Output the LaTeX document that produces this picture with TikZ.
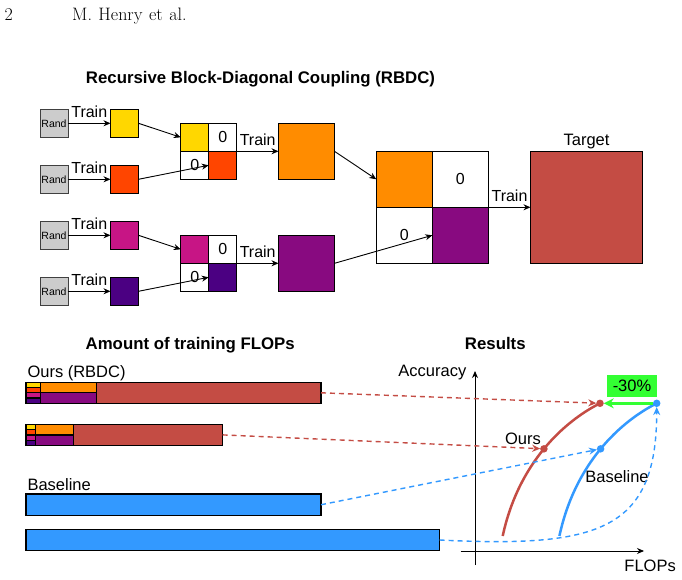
\documentclass[tikz,border=0pt]{standalone}
\usepackage{fontspec}
\newfontfamily\arial{Liberation Sans}
\usetikzlibrary{arrows.meta,fit}
\definecolor{cyel}{HTML}{FFD700}
\definecolor{cored}{HTML}{FF4500}
\definecolor{cmag}{HTML}{C71585}
\definecolor{cind}{HTML}{4B0082}
\definecolor{corg}{HTML}{FF8C00}
\definecolor{cpur}{HTML}{880A80}
\definecolor{ctar}{HTML}{C44C44}
\definecolor{cblue}{HTML}{3399FF}
\definecolor{cgreen}{HTML}{33FF33}
\definecolor{cgray}{HTML}{CCCCCC}
\tikzset{
  lbl/.style={font=\arial\fontsize{16.5}{19}\selectfont, inner sep=0pt},
  trl/.style={font=\arial\fontsize{16}{19}\selectfont, inner sep=0pt},
  ttl/.style={font=\arial\bfseries\fontsize{16.8}{19}\selectfont, inner sep=0pt},
  cell/.style={draw=black, line width=0.9pt, minimum size=28pt, inner sep=0pt, outer sep=0pt, font=\arial\fontsize{16}{19}\selectfont},
  bigcell/.style={cell, minimum size=56pt},
  randbox/.style={draw=black!75, fill=cgray, line width=0.9pt, minimum size=28pt, inner sep=0pt, outer sep=0pt, font=\arial\fontsize{10.5}{12}\selectfont},
  arr/.style={-{Stealth[length=7pt,width=6pt]}, line width=0.9pt},
  seg/.style={draw=black, line width=1.2pt, inner sep=0pt, outer sep=0pt, anchor=north west},
  rdash/.style={ctar, line width=1.4pt, dash pattern=on 5pt off 4pt, -{Stealth[length=8pt,width=7pt]}},
  bdash/.style={cblue, line width=1.4pt, dash pattern=on 5pt off 4pt, -{Stealth[length=8pt,width=7pt]}},
  dot/.style={circle, inner sep=0pt, minimum size=7.5pt, outer sep=0pt},
}
\begin{document}
\begin{tikzpicture}[x=1pt,y=-1pt]
\useasboundingbox (0,0) rectangle (682,580);
% header
\node[anchor=base west, inner sep=0pt, font=\fontsize{18}{21}\selectfont] (pg) at (4.5,21) {2};
\node[anchor=base west, inner sep=0pt, font=\fontsize{18}{21}\selectfont] (au) at (72,21) {M.\hspace{6.5pt}Henry\hspace{6.5pt}et\hspace{6.5pt}al.};
% title
\node[ttl, anchor=base] (t1) at (260.5,84) {Recursive Block-Diagonal Coupling (RBDC)};
% rand boxes and small squares
\foreach \i/\y/\c in {1/123.3/cyel, 2/179.3/cored, 3/235.3/cmag, 4/291.3/cind}{
  \node[randbox] (r\i) at (54,\y) {Rand};
  \node[cell, fill=\c] (s\i) at (124.5,\y) {};
  \draw[arr] (r\i) -- node[trl, above=5pt] (tr\i) {Train} (s\i);
}
% block 1
\node[cell, fill=cyel] (a11) at (194.7,137.3) {};
\node[cell, fill=white] (a12) at (222.7,137.3) {0};
\node[cell, fill=white] (a21) at (194.7,165.3) {0};
\node[cell, fill=cored] (a22) at (222.7,165.3) {};
\node[fit=(a11)(a22), inner sep=0pt] (A) {};
% block 2
\node[cell, fill=cmag] (b11) at (194.7,249.3) {};
\node[cell, fill=white] (b12) at (222.7,249.3) {0};
\node[cell, fill=white] (b21) at (194.7,277.3) {0};
\node[cell, fill=cind] (b22) at (222.7,277.3) {};
\node[fit=(b11)(b22), inner sep=0pt] (Bb) {};
\draw[arr] (s1.east) -- (a11.west);
\draw[arr] (s2.east) -- (a22.west);
\draw[arr] (s3.east) -- (b11.west);
\draw[arr] (s4.east) -- (b22.west);
% orange, purple
\node[bigcell, fill=corg] (o) at (306.5,151.3) {};
\node[bigcell, fill=cpur] (p) at (306.5,263.3) {};
\draw[arr] (A.east) -- node[trl, above=5pt] (tra) {Train} (o.west);
\draw[arr] (Bb.east) -- node[trl, above=5pt] (trb) {Train} (p.west);
% big block
\node[bigcell, fill=corg] (c11) at (404.3,179.3) {};
\node[bigcell, fill=white] (c12) at (460.3,179.3) {0};
\node[bigcell, fill=white] (c21) at (404.3,235.3) {0};
\node[bigcell, fill=cpur] (c22) at (460.3,235.3) {};
\node[fit=(c11)(c22), inner sep=0pt] (C) {};
\draw[arr] (o.east) -- (c11.west);
\draw[arr] (p.east) -- (c22.west);
% target
\node[cell, fill=ctar, minimum size=112pt] (T) at (586.5,207.3) {};
\node[lbl, anchor=base] (tl) at (586.5,146) {Target};
\draw[arr] (C.east) -- node[trl, above=5pt] (trc) {Train} (T.west);

% section titles
\node[ttl, anchor=base] (t2) at (190.2,349) {Amount of training FLOPs};
\node[ttl, anchor=base] (t3) at (495.3,349) {Results};
\node[lbl, anchor=base west] (l1) at (27.3,377) {Ours (RBDC)};
\node[lbl, anchor=base west] (l2) at (27.3,490.7) {Baseline};

% bar 1
\node[seg, fill=cyel, minimum width=14.7pt, minimum height=5.25pt] (p1a) at (26,382.3) {};
\node[seg, fill=cored, minimum width=14.7pt, minimum height=5.25pt] (p1b) at (26,387.55) {};
\node[seg, fill=cmag, minimum width=14.7pt, minimum height=5.25pt] (p1c) at (26,392.8) {};
\node[seg, fill=cind, minimum width=14.7pt, minimum height=5.25pt] (p1d) at (26,398.05) {};
\node[seg, fill=corg, minimum width=56pt, minimum height=10.5pt] (p1e) at (40.7,382.3) {};
\node[seg, fill=cpur, minimum width=56pt, minimum height=10.5pt] (p1f) at (40.7,392.8) {};
\node[seg, fill=ctar, minimum width=224.3pt, minimum height=21pt] (p1g) at (96.7,382.3) {};
% bar 2
\node[seg, fill=cyel, minimum width=9.7pt, minimum height=5.3pt] (p2a) at (26,424.3) {};
\node[seg, fill=cored, minimum width=9.7pt, minimum height=5.3pt] (p2b) at (26,429.6) {};
\node[seg, fill=cmag, minimum width=9.7pt, minimum height=5.3pt] (p2c) at (26,434.9) {};
\node[seg, fill=cind, minimum width=9.7pt, minimum height=5.3pt] (p2d) at (26,440.2) {};
\node[seg, fill=corg, minimum width=37.6pt, minimum height=10.6pt] (p2e) at (35.7,424.3) {};
\node[seg, fill=cpur, minimum width=37.6pt, minimum height=10.6pt] (p2f) at (35.7,434.9) {};
\node[seg, fill=ctar, minimum width=149.4pt, minimum height=21.2pt] (p2g) at (73.3,424.3) {};
% baseline bars
\node[seg, fill=cblue, minimum width=295pt, minimum height=21.5pt] (q1) at (26,494) {};
\node[seg, fill=cblue, minimum width=413.7pt, minimum height=21.4pt] (q2) at (26,529.3) {};

% axes
\coordinate (yb) at (475,565);
\coordinate (yt) at (475,371);
\coordinate (xl) at (460.7,551);
\coordinate (xr) at (644,551);
\draw[-{Stealth[length=7pt,width=6pt]}, line width=0.9pt] (yb) -- (yt);
\draw[-{Stealth[length=7pt,width=6pt]}, line width=0.9pt] (xl) -- (xr);
\node[lbl, anchor=base east] (ax1) at (466.5,376.5) {Accuracy};
\node[lbl, anchor=base east] (ax2) at (676,571) {FLOPs};

% curves
\coordinate (rs) at (502.7,536);
\coordinate (rtc) at (600,403.3);
\coordinate (bs) at (559.4,536);
\coordinate (btc) at (656.7,403.3);
\draw[ctar, line width=2.5pt] (rs) .. controls (518.5,462.5) and (564.4,421.3) .. node[pos=0.5, dot, fill=ctar] (rm) {} (rtc);
\draw[cblue, line width=2.5pt] (bs) .. controls (575.2,462.5) and (621.1,421.3) .. node[pos=0.5, dot, fill=cblue] (bm) {} (btc);
\node[dot, fill=ctar] (rt) at (rtc) {};
\node[dot, fill=cblue] (bt) at (btc) {};
\node[lbl, anchor=base] (lo) at (523,444) {Ours};
\node[lbl, anchor=base] (lb) at (617,482.5) {Baseline};

% green
\draw[cgreen, line width=3pt, -{Stealth[length=10pt,width=10pt]}] (bt) -- (rt);
\node[fill=cgreen, minimum width=50.6pt, minimum height=21.7pt, inner sep=0pt, lbl] (g) at (632,385.8) {-30\%};

% dashed connectors
\draw[rdash] (p1g.east) -- (rt);
\draw[rdash] (p2g.east) -- (rm);
\draw[bdash] (q1.east) -- (bm);
\draw[bdash] (q2.east) .. controls (600,548) and (656.7,530) .. (bt);
\end{tikzpicture}
\end{document}
